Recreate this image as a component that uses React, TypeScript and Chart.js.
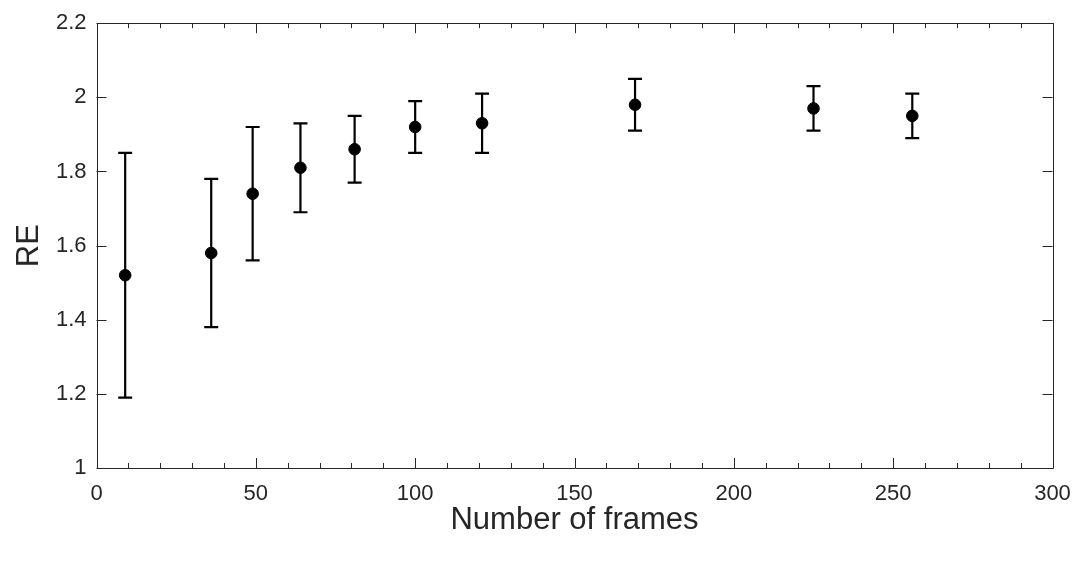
import React, { useEffect, useRef } from "react";
import { Chart, registerables } from "chart.js";

Chart.register(...registerables);

const frames = [9, 36, 49, 64, 81, 100, 121, 169, 225, 256];
const reMean = [1.52, 1.58, 1.74, 1.81, 1.86, 1.92, 1.93, 1.98, 1.97, 1.95];
const reLow = [1.19, 1.38, 1.56, 1.69, 1.77, 1.85, 1.85, 1.91, 1.91, 1.89];
const reHigh = [1.85, 1.78, 1.92, 1.93, 1.95, 1.99, 2.01, 2.05, 2.03, 2.01];

const xTitle = "Number of frames";
const yTitle = "RE";

const FONT = "'Liberation Sans', Arial, Helvetica, sans-serif";
const AXIS_COLOR = "#262626";

const errorBarPlugin = {
  id: "errorBars",
  afterDatasetsDraw(chart: any) {
    const { ctx, scales } = chart;
    const xs = scales.x;
    const ys = scales.y;
    ctx.save();
    ctx.strokeStyle = "#000";
    ctx.lineWidth = 2.2;
    const cap = 7;
    for (let i = 0; i < frames.length; i++) {
      const px = xs.getPixelForValue(frames[i]);
      const pLo = ys.getPixelForValue(reLow[i]);
      const pHi = ys.getPixelForValue(reHigh[i]);
      ctx.beginPath();
      ctx.moveTo(px, pLo);
      ctx.lineTo(px, pHi);
      ctx.moveTo(px - cap, pLo);
      ctx.lineTo(px + cap, pLo);
      ctx.moveTo(px - cap, pHi);
      ctx.lineTo(px + cap, pHi);
      ctx.stroke();
    }
    ctx.restore();
  },
};

const boxTicksPlugin = {
  id: "boxTicks",
  afterDraw(chart: any) {
    const { ctx, chartArea, scales } = chart;
    const xs = scales.x;
    const ys = scales.y;
    const { left, right, top, bottom } = chartArea;
    ctx.save();
    ctx.strokeStyle = AXIS_COLOR;
    ctx.lineWidth = 1;
    ctx.beginPath();
    for (let v = xs.min; v <= xs.max + 1e-9; v += 10) {
      const p = Math.round(xs.getPixelForValue(v)) + 0.5;
      const len = Math.abs(v % 50) < 1e-9 ? 10 : 5;
      ctx.moveTo(p, bottom);
      ctx.lineTo(p, bottom - len);
      ctx.moveTo(p, top);
      ctx.lineTo(p, top + len);
    }
    ys.ticks.forEach((t: any) => {
      const p = Math.round(ys.getPixelForValue(t.value)) + 0.5;
      ctx.moveTo(left, p);
      ctx.lineTo(left + 10, p);
      ctx.moveTo(right, p);
      ctx.lineTo(right - 10, p);
    });
    ctx.stroke();
    ctx.beginPath();
    ctx.rect(Math.round(left) + 0.5, Math.round(top) + 0.5, Math.round(right - left), Math.round(bottom - top));
    ctx.stroke();
    ctx.restore();
  },
};

export default function App() {
  const ref = useRef<HTMLCanvasElement>(null);
  useEffect(() => {
    document.body.style.margin = "0";
    const canvas = ref.current!;
    const chart = new Chart(canvas, {
      type: "scatter",
      data: {
        datasets: [
          {
            data: frames.map((f, i) => ({ x: f, y: reMean[i] })),
            backgroundColor: "#000",
            borderColor: "#000",
            pointRadius: 5.8,
            pointHoverRadius: 5.8,
            showLine: false,
          },
        ],
      },
      options: {
        animation: false,
        responsive: false,
        devicePixelRatio: 1,
        layout: { padding: { left: 0, right: 36.5, top: 21.7, bottom: 0 } },
        plugins: { legend: { display: false }, tooltip: { enabled: false } },
        scales: {
          x: {
            type: "linear",
            min: 0,
            max: 300,
            afterFit: (s: any) => {
              s.height = 98;
            },
            ticks: {
              stepSize: 50,
              color: AXIS_COLOR,
              font: { family: FONT, size: 22 },
              padding: 5,
              maxRotation: 0,
            },
            grid: { display: false, drawTicks: true, tickLength: 8 },
            border: { display: false },
            title: {
              display: true,
              text: xTitle,
              color: AXIS_COLOR,
              font: { family: FONT, size: 31 },
              padding: { top: 0, bottom: 27 },
            },
          },
          y: {
            type: "linear",
            min: 1,
            max: 2.2,
            afterFit: (s: any) => {
              s.width = 96.5;
            },
            ticks: {
              stepSize: 0.2,
              color: AXIS_COLOR,
              font: { family: FONT, size: 22 },
              padding: 10,
              callback: (v: any) => String(Math.round(Number(v) * 10) / 10),
            },
            grid: { display: false, drawTicks: false },
            border: { display: false },
            title: {
              display: true,
              text: yTitle,
              color: AXIS_COLOR,
              font: { family: FONT, size: 31 },
              padding: { top: 11, bottom: 0 },
            },
          },
        },
      },
      plugins: [errorBarPlugin, boxTicksPlugin],
    });
    return () => chart.destroy();
  }, []);
  return (
    <div style={{ width: 1089, height: 566, background: "#fff" }}>
      <canvas ref={ref} width={1089} height={566} style={{ display: "block" }} />
    </div>
  );
}
